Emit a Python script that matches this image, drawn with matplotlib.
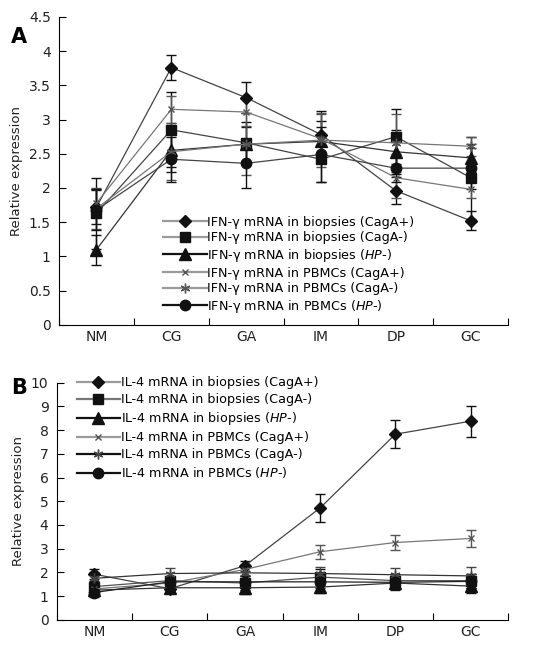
import numpy as np
import matplotlib
matplotlib.use("Agg")
from matplotlib import pyplot as plt
from matplotlib.lines import Line2D

plt.rcParams['font.family'] = ['DejaVu Sans']
plt.rcParams['mathtext.fontset'] = 'custom'
plt.rcParams['mathtext.it'] = 'DejaVu Sans:italic'
plt.rcParams['mathtext.rm'] = 'DejaVu Sans'

stages = ["NM", "CG", "GA", "IM", "DP", "GC"]

# panel A: IFN-gamma
ifn_bio_cagp = [1.72, 3.76, 3.32, 2.78, 1.96, 1.52]
ifn_bio_cagp_err = [0.25, 0.18, 0.23, 0.35, 0.20, 0.14]
ifn_bio_cagn = [1.63, 2.85, 2.66, 2.42, 2.75, 2.15]
ifn_bio_cagn_err = [0.52, 0.55, 0.30, 0.33, 0.40, 0.60]
ifn_bio_hpn = [1.10, 2.55, 2.64, 2.68, 2.53, 2.44]
ifn_bio_hpn_err = [0.22, 0.32, 0.25, 0.30, 0.32, 0.20]
ifn_pb_cagp = [1.78, 3.15, 3.11, 2.72, 2.15, 1.98]
ifn_pb_cagp_err = [0.20, 0.20, 0.20, 0.36, 0.30, 0.12]
ifn_pb_cagn = [1.70, 2.53, 2.64, 2.70, 2.66, 2.61]
ifn_pb_cagn_err = [0.30, 0.42, 0.45, 0.40, 0.42, 0.14]
ifn_pb_hpn = [1.68, 2.42, 2.36, 2.49, 2.29, 2.29]
ifn_pb_hpn_err = [0.30, 0.33, 0.36, 0.40, 0.20, 0.30]

# panel B: IL-4
il4_bio_cagp = [1.92, 1.31, 2.28, 4.72, 7.83, 8.38]
il4_bio_cagp_err = [0.22, 0.12, 0.22, 0.58, 0.58, 0.66]
il4_bio_cagn = [1.40, 1.65, 1.55, 1.80, 1.65, 1.65]
il4_bio_cagn_err = [0.25, 0.20, 0.30, 0.35, 0.30, 0.30]
il4_bio_hpn = [1.25, 1.35, 1.35, 1.38, 1.55, 1.42]
il4_bio_hpn_err = [0.20, 0.15, 0.25, 0.25, 0.30, 0.30]
il4_pb_cagp = [1.30, 1.55, 2.12, 2.87, 3.26, 3.43]
il4_pb_cagp_err = [0.20, 0.20, 0.25, 0.30, 0.32, 0.36]
il4_pb_cagn = [1.75, 1.95, 1.98, 1.95, 1.90, 1.85]
il4_pb_cagn_err = [0.25, 0.22, 0.25, 0.28, 0.30, 0.38]
il4_pb_hpn = [1.15, 1.60, 1.60, 1.60, 1.58, 1.62]
il4_pb_hpn_err = [0.20, 0.20, 0.25, 0.25, 0.25, 0.30]

ast = (6, 2, 0)
x = np.arange(len(stages)) + 0.5

fig = plt.figure(figsize=(5.47, 6.51), dpi=100)
axA = fig.add_axes([0.108, 0.501, 0.821, 0.473])
axB = fig.add_axes([0.104, 0.048, 0.825, 0.364])


def style_axes(ax, ymax, ystep):
    ax.set_xlim(0, 6)
    ax.set_ylim(0, ymax)
    for s in ['top', 'right']:
        ax.spines[s].set_visible(False)
    ax.set_xticks(np.arange(0, 7))
    ax.set_xticklabels([])
    ax.set_xticks(x, minor=True)
    ax.set_xticklabels(stages, minor=True, fontsize=10, color='#222222')
    ax.tick_params(axis='x', which='major', direction='in', length=5)
    ax.tick_params(axis='x', which='minor', length=0, pad=4)
    ticks = np.arange(0, ymax + ystep / 2, ystep)
    ax.set_yticks(ticks)
    ax.set_yticklabels(['%g' % t for t in ticks], fontsize=10, color='#222222')
    ax.tick_params(axis='y', direction='in', length=5, pad=6)
    ax.set_ylabel('Relative expression', fontsize=9.5, color='#222222', labelpad=4)


def draw(ax, vals, errs, marker, ms, lc, mc, label, mew=1.0):
    ax.errorbar(x, vals, yerr=errs, fmt='none', ecolor=mc, elinewidth=1.0,
                capsize=3.5, capthick=1.0, zorder=2)
    ax.plot(x, vals, color=lc, lw=0.9, marker=marker, ms=ms,
            mfc=mc, mec=mc, mew=mew, label=label, zorder=3)


dark = '#111111'
gray = '#777777'
lgray = '#9a9a9a'

series_A = [
    (ifn_bio_cagp, ifn_bio_cagp_err, 'D', 6.5, '#444444', dark, 'IFN-γ mRNA in biopsies (CagA+)', lgray),
    (ifn_bio_cagn, ifn_bio_cagn_err, 's', 7, '#444444', dark, 'IFN-γ mRNA in biopsies (CagA-)', lgray),
    (ifn_bio_hpn, ifn_bio_hpn_err, '^', 8, '#333333', dark, r'IFN-γ mRNA in biopsies ($\mathit{HP}$-)', dark),
    (ifn_pb_cagp, ifn_pb_cagp_err, 'x', 5, gray, '#555555', 'IFN-γ mRNA in PBMCs (CagA+)', lgray),
    (ifn_pb_cagn, ifn_pb_cagn_err, ast, 7, gray, '#555555', 'IFN-γ mRNA in PBMCs (CagA-)', lgray),
    (ifn_pb_hpn, ifn_pb_hpn_err, 'o', 7.5, '#444444', dark, r'IFN-γ mRNA in PBMCs ($\mathit{HP}$-)', dark),
]

series_B = [
    (il4_bio_cagp, il4_bio_cagp_err, 'D', 6.5, '#444444', dark, 'IL-4 mRNA in biopsies (CagA+)', lgray),
    (il4_bio_cagn, il4_bio_cagn_err, 's', 7, '#555555', dark, 'IL-4 mRNA in biopsies (CagA-)', gray),
    (il4_bio_hpn, il4_bio_hpn_err, '^', 8, '#333333', dark, r'IL-4 mRNA in biopsies ($\mathit{HP}$-)', dark),
    (il4_pb_cagp, il4_pb_cagp_err, 'x', 5, gray, '#555555', 'IL-4 mRNA in PBMCs (CagA+)', lgray),
    (il4_pb_cagn, il4_pb_cagn_err, ast, 7, '#333333', '#444444', 'IL-4 mRNA in PBMCs (CagA-)', dark),
    (il4_pb_hpn, il4_pb_hpn_err, 'o', 7.5, '#222222', dark, r'IL-4 mRNA in PBMCs ($\mathit{HP}$-)', dark),
]


def panel(ax, series, anchor, spacing):
    handles = []
    for vals, errs, m, ms, lc, mc, lab, leg_lc in series:
        draw(ax, vals, errs, m, ms, lc, mc, lab)
        handles.append(Line2D([], [], color=leg_lc, lw=1.6, marker=m, ms=ms,
                              mfc=mc, mec=mc))
    labels = [s[6] for s in series]
    ax.legend(handles, labels, loc='upper left', bbox_to_anchor=anchor,
              frameon=False, fontsize=9.2, handlelength=3.4, handletextpad=0.05,
              labelspacing=spacing, borderpad=0, borderaxespad=0)


style_axes(axA, 4.5, 0.5)
panel(axA, series_A, (0.232, 0.355), 0.21)
style_axes(axB, 10, 1)
panel(axB, series_B, (0.044, 1.027), 0.31)

fig.text(0.034, 0.943, 'A', fontsize=15, fontweight='bold', va='center', ha='center')
fig.text(0.034, 0.404, 'B', fontsize=15, fontweight='bold', va='center', ha='center')

fig.savefig('out.png', dpi=100)
